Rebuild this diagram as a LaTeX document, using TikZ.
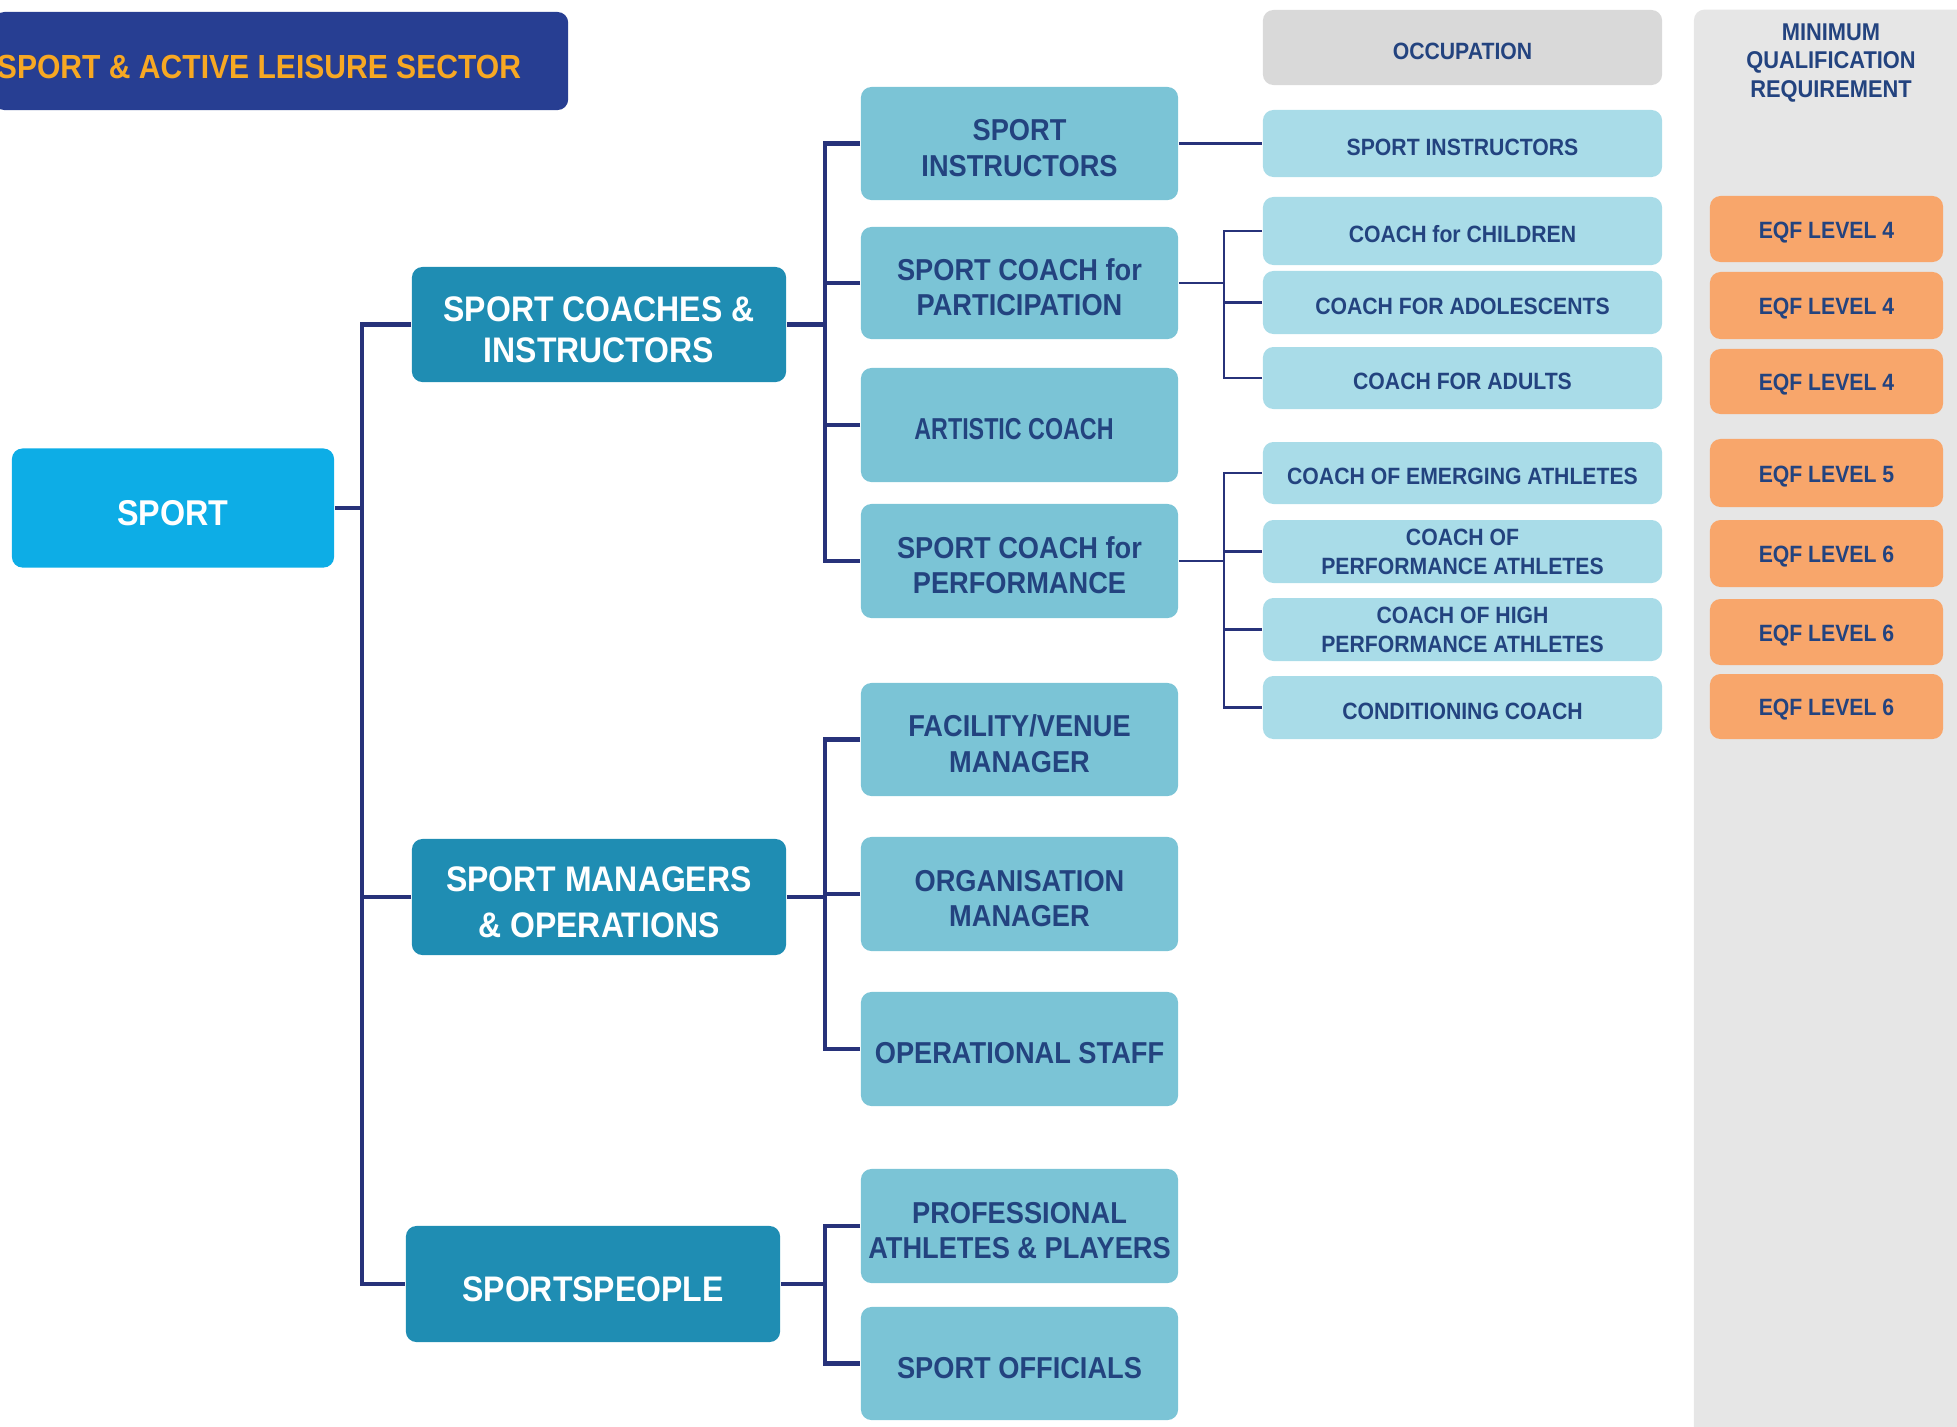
\documentclass[tikz,border=0pt]{standalone}
\usepackage{fontspec}
\setmainfont[FakeStretch=0.9]{Liberation Sans}
\newfontfamily\condfont[FakeStretch=0.77]{Liberation Sans}
\newcommand\liftup{\rule{0pt}{1em}}
\definecolor{cTitle}{HTML}{273E92}
\definecolor{cGold}{HTML}{F7A823}
\definecolor{cSport}{HTML}{0DADE6}
\definecolor{cL1}{HTML}{1F8DB3}
\definecolor{cL2}{HTML}{7BC4D6}
\definecolor{cL3}{HTML}{A9DCE8}
\definecolor{cHead}{HTML}{D9D9D9}
\definecolor{cCol}{HTML}{E6E6E6}
\definecolor{cEqf}{HTML}{F8A66B}
\definecolor{cTxt}{HTML}{23437F}
\definecolor{cLine}{HTML}{27327A}
\begin{document}
\begin{tikzpicture}[x=0.01cm,y=-0.01cm,
  box/.style={rectangle, rounded corners=3pt, inner sep=0pt, align=center,
    execute at begin node={\liftup}},
  l0/.style={box, fill=cSport, text=white, font=\fontsize{10.2}{12}\selectfont\bfseries},
  l1/.style={box, fill=cL1, text=white, font=\fontsize{10.1}{11.5}\selectfont\bfseries},
  l2/.style={box, fill=cL2, text=cTxt, minimum width=3.17cm, font=\fontsize{8.6}{10}\selectfont\bfseries},
  l3/.style={box, fill=cL3, text=cTxt, minimum width=3.99cm, font=\fontsize{6.7}{8.2}\selectfont\bfseries},
  eqf/.style={box, fill=cEqf, text=cTxt, minimum width=2.33cm, font=\fontsize{6.7}{8.2}\selectfont\bfseries},
  trunk/.style={draw=cLine, line width=1.35pt},
  thin/.style={draw=cLine, line width=0.8pt}]
\useasboundingbox (0,0) rectangle (1957,1426);
% title
\node[box, fill=cTitle, minimum width=5.74cm, minimum height=0.98cm] (title) at (281,61) {};
\node[text=cGold, font=\fontsize{9.5}{11}\selectfont\bfseries, inner sep=0pt] (titletext) at (259,67) {SPORT \& ACTIVE LEISURE SECTOR};
% right column
\node[box, fill=cCol, minimum width=2.8cm, minimum height=14.4cm] (qualcol) at (1834,730) {};
\node[text=cTxt, align=center, inner sep=0pt, font=\fontsize{6.9}{8.2}\selectfont\bfseries] (qualhead) at (1831,63) {MINIMUM\\QUALIFICATION\\REQUIREMENT};
% root
\node[l0, minimum width=3.22cm, minimum height=1.19cm] (sport) at (173,508) {SPORT};
% level 1
\node[l1, minimum width=3.74cm, minimum height=1.15cm] (coaches) at (599,324.5) {\liftup SPORT COACHES \&\\INSTRUCTORS};
\node[l1, minimum width=3.74cm, minimum height=1.16cm, font=\fontsize{10.1}{13}\selectfont\bfseries] (managers) at (599,897) {\liftup SPORT MANAGERS\\\& OPERATIONS};
\node[l1, minimum width=3.74cm, minimum height=1.16cm] (people) at (593,1284) {SPORTSPEOPLE};
% level 2
\node[l2, minimum height=1.13cm] (si) at (1019.5,143.5) {\liftup SPORT\\INSTRUCTORS};
\node[l2, minimum height=1.12cm] (scp) at (1019.5,283) {\liftup SPORT COACH for\\PARTICIPATION};
\node[l2, minimum height=1.14cm] (ac) at (1019.5,425) {};
\node[box, text=cTxt, font=\fontsize{8.6}{10}\selectfont\condfont\bfseries] (actext) at (1014,425) {ARTISTIC COACH};
\node[l2, minimum height=1.14cm] (scperf) at (1019.5,561) {\liftup SPORT COACH for\\PERFORMANCE};
\node[l2, minimum height=1.13cm] (fvm) at (1019.5,739.5) {\liftup FACILITY/VENUE\\MANAGER};
\node[l2, minimum height=1.14cm] (om) at (1019.5,894) {\liftup ORGANISATION\\MANAGER};
\node[l2, minimum height=1.14cm] (os) at (1019.5,1049) {OPERATIONAL STAFF};
\node[l2, minimum height=1.14cm] (paap) at (1019.5,1226) {\liftup PROFESSIONAL\\ATHLETES \& PLAYERS};
\node[l2, minimum height=1.13cm] (so) at (1019.5,1363.5) {SPORT OFFICIALS};
% level 3
\node[l3, fill=cHead, minimum height=0.75cm] (occ) at (1462.5,47.5) {OCCUPATION};
\node[l3, minimum height=0.67cm] (si3) at (1462.5,143.5) {SPORT INSTRUCTORS};
\node[l3, minimum height=0.68cm] (cc) at (1462.5,231) {COACH for CHILDREN};
\node[l3, minimum height=0.63cm] (cad) at (1462.5,302.5) {COACH FOR ADOLESCENTS};
\node[l3, minimum height=0.62cm] (cadu) at (1462.5,378) {COACH FOR ADULTS};
\node[l3, minimum height=0.62cm] (cea) at (1462.5,473) {COACH OF EMERGING ATHLETES};
\node[l3, minimum height=0.63cm] (cpa) at (1462.5,551.5) {COACH OF\\PERFORMANCE ATHLETES};
\node[l3, minimum height=0.63cm] (chpa) at (1462.5,629.5) {COACH OF HIGH\\PERFORMANCE ATHLETES};
\node[l3, minimum height=0.63cm] (cond) at (1462.5,707.5) {CONDITIONING COACH};
% EQF
\node[eqf, minimum height=0.66cm] (e1) at (1826.5,229) {EQF LEVEL 4};
\node[eqf, minimum height=0.67cm] (e2) at (1826.5,305.5) {EQF LEVEL 4};
\node[eqf, minimum height=0.65cm] (e3) at (1826.5,381.5) {EQF LEVEL 4};
\node[eqf, minimum height=0.68cm] (e4) at (1826.5,473) {EQF LEVEL 5};
\node[eqf, minimum height=0.67cm] (e5) at (1826.5,553.5) {EQF LEVEL 6};
\node[eqf, minimum height=0.66cm] (e6) at (1826.5,632) {EQF LEVEL 6};
\node[eqf, minimum height=0.65cm] (e7) at (1826.5,706.5) {EQF LEVEL 6};
% bus coordinates
\coordinate (t1) at (362,0);
\coordinate (b2) at (825,0);
\coordinate (b3) at (1224,0);
% trunk
\draw[trunk] (sport.east) -- (sport.east -| t1);
\draw[trunk] (coaches.west) -- (coaches.west -| t1) |- (people.west);
\draw[trunk] (managers.west) -- (managers.west -| t1);
% coaches branch
\draw[trunk] (coaches.east) -- (coaches.east -| b2);
\draw[trunk] (si.west) -- (si.west -| b2) |- (scperf.west);
\draw[trunk] (scp.west) -- (scp.west -| b2);
\draw[trunk] (ac.west) -- (ac.west -| b2);
% managers branch
\draw[trunk] (managers.east) -- (managers.east -| b2);
\draw[trunk] (fvm.west) -- (fvm.west -| b2) |- (os.west);
\draw[trunk] (om.west) -- (om.west -| b2);
% people branch
\draw[trunk] (people.east) -- (people.east -| b2);
\draw[trunk] (paap.west) -- (paap.west -| b2) |- (so.west);
% level 3
\draw[thin] (si.east) -- (si3.west);
\draw[thin] (scp.east) -- (scp.east -| b3);
\draw[thin] (cc.west) -- (cc.west -| b3) |- (cadu.west);
\draw[thin] (cad.west) -- (cad.west -| b3);
\draw[thin] (scperf.east) -- (scperf.east -| b3);
\draw[thin] (cea.west) -- (cea.west -| b3) |- (cond.west);
\draw[thin] (cpa.west) -- (cpa.west -| b3);
\draw[thin] (chpa.west) -- (chpa.west -| b3);
\end{tikzpicture}
\end{document}
